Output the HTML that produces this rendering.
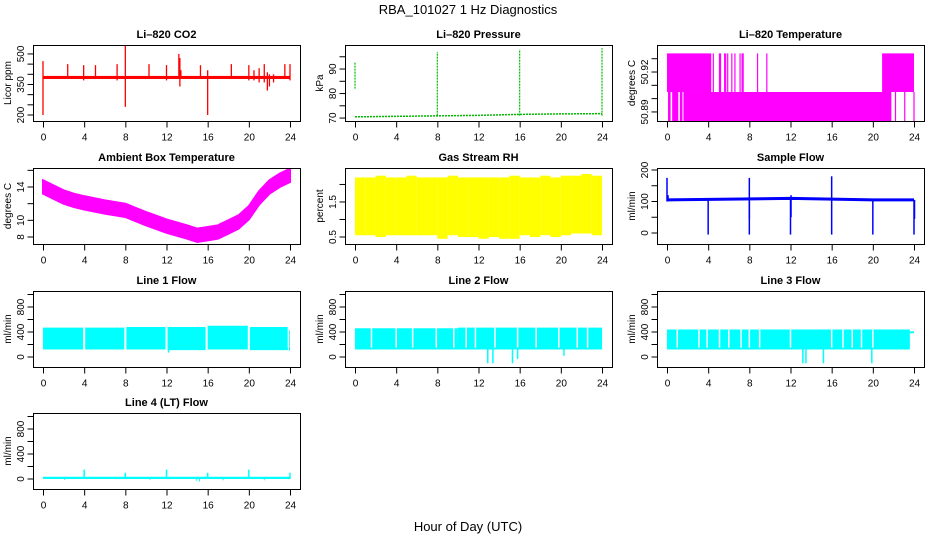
<!DOCTYPE html>
<html><head><meta charset="utf-8"><style>
body{margin:0;background:#fff}
svg{display:block;font-family:"Liberation Sans",sans-serif}
</style></head><body>
<svg id="c" width="936" height="540" viewBox="0 0 936 540">
<text x="468" y="14" text-anchor="middle" font-size="13">RBA_101027  1 Hz Diagnostics</text>
<text x="468" y="531" text-anchor="middle" font-size="13">Hour of Day (UTC)</text>
</svg>
<script>
// ---- data arrays ----
const xTicks=[0,4,8,12,16,20,24];
const co2Base=[377,392];
const co2SpikeHours=[0,2.4,3.95,5.1,7.2,8,10.3,12,13.2,13.3,13.4,15.3,16,18.3,20,20.5,21,21.5,21.8,22.0,22.4,23.5,24];
const co2SpikeHi=[465,450,445,445,450,540,450,445,500,480,420,445,420,450,445,420,430,450,410,400,400,450,450];
const co2SpikeLo=[200,385,370,385,370,240,385,370,385,340,385,385,200,385,370,370,360,360,320,340,360,385,370];
const presHours=[0,4,8,12,16,20,24];
const presBase=[70.5,70.7,70.9,71.1,71.5,71.7,71.8];
const presSpikeHours=[0,8,16,24];
const presSpikeLo=[82,71,71,71];
const presSpikeHi=[93,97,98,98.5];
const tempUpperBlocks=[[0,4.3],[20.9,24]];
const tempUpperLines=[4.5,5.1,5.2,5.6,5.7,5.9,6.3,6.6,7.1,7.3,7.4,8.8,9.7];
const tempLowerBlocks=[[0.1,0.35],[0.5,1.1],[1.25,1.5],[1.6,21.8]];
const tempLowerLines=[22.2,23.1,24];
const tempLevels=[50.8805,50.905,50.934];
const ambHours=[0,1,2,3,4,6,8,10,12,14,15,16,17,18,19,20,21,22,23,24];
const ambTemp=[14,13.4,12.8,12.4,12.1,11.6,11.2,10.2,9.3,8.6,8.2,8.4,8.6,9.2,9.8,10.9,12.7,14,14.8,15.4];
const ambHalfWidth=0.8;
const rhHours=[0,1,2,3,4,5,6,7,8,9,10,11,12,13,14,15,16,17,18,19,20,21,22,23,24];
const rhTop=[2.2,2.2,2.25,2.2,2.2,2.25,2.2,2.2,2.2,2.25,2.2,2.2,2.2,2.2,2.2,2.25,2.2,2.2,2.25,2.2,2.25,2.25,2.3,2.25,2.2];
const rhBot=[0.55,0.55,0.5,0.55,0.55,0.55,0.55,0.55,0.45,0.55,0.5,0.5,0.45,0.5,0.45,0.45,0.55,0.5,0.55,0.5,0.55,0.6,0.6,0.55,0.5];
const sfHours=[0,12,20,24];
const sfBase=[105,110,105,105];
const sfSpikeHours=[0,0.1,4,8,8,12,12.05,16,20,24,24.05];
const sfSpikeHi=[175,120,105,175,105,105,120,180,105,105,105];
const sfSpikeLo=[100,100,-5,-5,45,-5,50,-5,-5,-5,45];
const l1Blocks=[[0,3.9,470,120],[4.1,7.9,470,120],[8.1,11.9,480,120],[12.1,15.8,480,110],[16,19.9,500,120],[20.1,23.8,480,110],[23.9,24,430,100]];
const l1Dips=[[12.2,70]];
const l2Blocks=[[0,10,460,120],[10,24,470,120]];
const l2Gaps=[1.6,4.0,5.6,7.9,9.6,10.8,11.7,13.6,15.8,17.6,19.8,21.6,22.6];
const l2Dips=[[12.9,-100],[13.4,-100],[15.3,-100],[15.8,-30],[20.3,20]];
const l3Blocks=[[0,23.6,440,120],[23.6,24,410,380]];
const l3Gaps=[1.0,3.1,3.9,5.1,6.0,7.2,8.0,9.0,12.0,16.0,17.1,18.0,18.9,20.0];
const l3Dips=[[13.2,-100],[13.5,-100],[15.2,-100],[19.9,-100]];
const l4Base=[0,20];
const l4SpikeHours=[4,8,12,16,20,24];
const l4SpikeHi=[150,100,150,100,150,100];
const l4Dips=[[2.1,-15],[10.4,-15],[14.9,-30],[15.2,-40],[17.5,-20],[21.5,-20]];

// ---- rendering ----
const svg=document.getElementById('c');
const NS='http://www.w3.org/2000/svg';
const colL=[33,345,657], rowT=[45,168,291,413], W=267, H=76;
function mk(tag,attrs,parent){const e=document.createElementNS(NS,tag);for(const k in attrs)e.setAttribute(k,attrs[k]);(parent||svg).appendChild(e);return e;}
function panel(col,row,name,title,ylab,dom,ticks,labels){
  const L=colL[col],T=rowT[row];
  const g=mk('g',{});
  
  
  const xs=h=>L+10+h*(247/24);
  const ys=v=>T+H-(v-dom[0])/(dom[1]-dom[0])*H;
  const clip=mk('clipPath',{id:'cl'+name},g);
  mk('rect',{x:L,y:T,width:W,height:H},clip);
  const plot=mk('g',{'clip-path':'url(#cl'+name+')'},g);
  
  
  const fr=mk('rect',{x:L+0.5,y:T+0.5,width:W,height:H,fill:'none',stroke:'#000','stroke-width':1},g);
  
  
  const t=mk('text',{x:L+W/2,y:T-7,'text-anchor':'middle','font-size':11,'font-weight':'bold'},g);
  t.textContent=title;
  
  
  const by=T+H+0.5;
  xTicks.forEach(h=>{
    mk('line',{x1:xs(h)+0.5,x2:xs(h)+0.5,y1:by,y2:by+6,stroke:'#000'},g);
    const tx=mk('text',{x:xs(h)+0.5,y:by+19,'text-anchor':'middle','font-size':10},g);
    tx.textContent=h;
    
    
  });
  const ax=L+0.5;
  ticks.forEach(v=>{mk('line',{x1:ax-6,x2:ax,y1:ys(v),y2:ys(v),stroke:'#000'},g);});
  labels.forEach(v=>{
    const tl=mk('text',{x:0,y:0,'text-anchor':'middle','font-size':10,transform:`translate(${L-9},${ys(v)}) rotate(-90)`},g);
    tl.textContent=v;
    
    
  });
  const yl=mk('text',{x:0,y:0,'text-anchor':'middle','font-size':10,transform:`translate(${L-22},${T+H/2}) rotate(-90)`},g);
  yl.textContent=ylab;
  
  
  return {xs,ys,plot};
}
function vline(p,x,y1,y2,col,w){const e=mk('line',{x1:x,x2:x,y1:y1,y2:y2,stroke:col,'stroke-width':w||1},p);return e;}
function rect(p,x1,x2,y1,y2,col){const e=mk('rect',{x:Math.min(x1,x2),y:Math.min(y1,y2),width:Math.abs(x2-x1),height:Math.abs(y2-y1),fill:col},p);return e;}

// CO2
let P=panel(0,0,'co2','Li\u2013820 CO2','Licor ppm',[170.5,544],[200,250,300,350,400,450,500],[200,350,500]);
rect(P.plot,P.xs(0),P.xs(24),P.ys(co2Base[0]),P.ys(co2Base[1]),'#ff0000');
co2SpikeHours.forEach((h,i)=>vline(P.plot,P.xs(h),P.ys(co2SpikeLo[i]),P.ys(co2SpikeHi[i]),'#ff0000',1.3));
// Pressure
P=panel(1,0,'pressure','Li\u2013820 Pressure','kPa',[68.8,99.8],[70,75,80,85,90,95],[70,80,90]);
mk('polyline',{points:presHours.map((h,i)=>P.xs(h)+','+P.ys(presBase[i])).join(' '),fill:'none',stroke:'#00bb00','stroke-width':1.5,'stroke-dasharray':'2,1'},P.plot);
presSpikeHours.forEach((h,i)=>vline(P.plot,P.xs(h),P.ys(presSpikeLo[i]),P.ys(presSpikeHi[i]),'#00bb00',1.2).setAttribute('stroke-dasharray','2,1'));
// Temperature
P=panel(2,0,'li820-temp','Li\u2013820 Temperature','degrees C',[50.8832,50.9403],[50.89,50.90,50.91,50.92,50.93],['50.89','50.92']);
tempUpperBlocks.forEach(b=>rect(P.plot,P.xs(b[0]),P.xs(b[1]),P.ys(tempLevels[1]),P.ys(tempLevels[2]),'#ff00ff'));
tempUpperLines.forEach(h=>vline(P.plot,P.xs(h),P.ys(tempLevels[1]),P.ys(tempLevels[2]),'#ff00ff',1.2));
tempLowerBlocks.forEach(b=>rect(P.plot,P.xs(b[0]),P.xs(b[1]),P.ys(tempLevels[0]),P.ys(tempLevels[1]),'#ff00ff'));
tempLowerLines.forEach(h=>vline(P.plot,P.xs(h),P.ys(tempLevels[0]),P.ys(tempLevels[1]),'#ff00ff',1.2));
// Ambient
P=panel(0,1,'ambient','Ambient Box Temperature','degrees C',[7.16,16.28],[8,10,12,14,16],[8,10,14]);
{const up=ambHours.map((h,i)=>P.xs(h)+','+P.ys(ambTemp[i]+ambHalfWidth));const dn=ambHours.map((h,i)=>P.xs(h)+','+P.ys(ambTemp[i]-ambHalfWidth)).reverse();
const e=mk('polygon',{points:up.concat(dn).join(' '),fill:'#ff00ff',stroke:'#ff00ff','stroke-width':2},P.plot);}
// RH
P=panel(1,1,'rh','Gas Stream RH','percent',[0.3,2.47],[0.5,1.0,1.5,2.0],[0.5,1.5]);
rhHours.slice(0,-1).forEach((h,i)=>rect(P.plot,P.xs(h),P.xs(rhHours[i+1]),P.ys(rhBot[i]),P.ys(rhTop[i]),'#ffff00'));
// Sample flow
P=panel(2,1,'sample-flow','Sample Flow','ml/min',[-34.9,206.3],[0,50,100,150,200],[0,100,200]);
mk('polyline',{points:sfHours.map((h,i)=>P.xs(h)+','+P.ys(sfBase[i])).join(' '),fill:'none',stroke:'#0000ff','stroke-width':3},P.plot);
sfSpikeHours.forEach((h,i)=>vline(P.plot,P.xs(h),P.ys(sfSpikeLo[i]),P.ys(sfSpikeHi[i]),'#0000ff',1.5));
// Line flows
function lineFlow(col,row,name,title,blocks,gaps,dips){
  const P=panel(col,row,name,title,'ml/min',[-160,1056],[0,200,400,600,800,1000],[0,400,800]);
  blocks.forEach(b=>rect(P.plot,P.xs(b[0]),P.xs(b[1]),P.ys(b[3]),P.ys(b[2]),'#00ffff'));
  gaps.forEach(h=>vline(P.plot,P.xs(h),P.ys(150),P.ys(500),'#ffffff',1.5));
  dips.forEach(d=>vline(P.plot,P.xs(d[0]),P.ys(d[1]),P.ys(150),'#00ffff',1.5));
  return P;
}
lineFlow(0,2,'line1-flow','Line 1 Flow',l1Blocks,[4,8,12,15.9,20,23.85],l1Dips);
lineFlow(1,2,'line2-flow','Line 2 Flow',l2Blocks,l2Gaps,l2Dips);
lineFlow(2,2,'line3-flow','Line 3 Flow',l3Blocks,l3Gaps,l3Dips);
P=lineFlow(0,3,'line4-flow','Line 4 (LT) Flow',[],[],[]);
rect(P.plot,P.xs(0),P.xs(24),P.ys(l4Base[0]),P.ys(l4Base[1])-1,'#00ffff');
l4Dips.forEach(d=>vline(P.plot,P.xs(d[0]),P.ys(d[1]),P.ys(0),'#00ffff',1));
l4SpikeHours.forEach((h,i)=>vline(P.plot,P.xs(h),P.ys(0),P.ys(l4SpikeHi[i]),'#00ffff',1.5));
</script>
</body></html>
